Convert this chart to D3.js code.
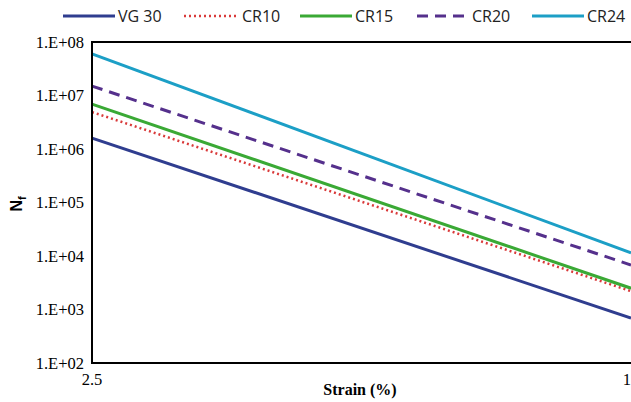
<!DOCTYPE html>
<html>
<head>
<meta charset="utf-8">
<script src="https://cdn.jsdelivr.net/npm/d3@7"></script>
<style>
  body { margin: 0; background: #fff; }
</style>
</head>
<body>
<div id="graph"></div>
<script>
// strain endpoints (%) and fatigue life Nf at each end
var strains = [2.5, 10];
var seriesNames = ["VG 30", "CR10", "CR15", "CR20", "CR24"];
var vg30 = [1.6e6, 690];
var cr10 = [4.9e6, 2.2e3];
var cr15 = [6.9e6, 2.5e3];
var cr20 = [1.5e7, 6.8e3];
var cr24 = [6.0e7, 1.14e4];
var yTicks = [1e2, 1e3, 1e4, 1e5, 1e6, 1e7, 1e8];
var xTicks = [2.5, 10];

var w = 631, h = 402;
var plotL = 92, plotR = 631, plotT = 42, plotB = 363;

var series = [
  { name: seriesNames[0], vals: vg30, color: "#2f3d8f", dash: null },
  { name: seriesNames[1], vals: cr10, color: "#d93a3a", dash: "2,3" },
  { name: seriesNames[2], vals: cr15, color: "#3aa935", dash: null },
  { name: seriesNames[3], vals: cr20, color: "#55308c", dash: "11,7" },
  { name: seriesNames[4], vals: cr24, color: "#1c9fc6", dash: null }
];

var xScale = d3.scaleLog().domain([2.5, 10]).range([plotL, plotR]);
var yScale = d3.scaleLog().domain([1e2, 1e8]).range([plotB, plotT]);

var svg = d3.select("#graph").append("svg")
  .attr("width", w).attr("height", h);

var line = d3.line()
  .x(function (d) { return xScale(d[0]); })
  .y(function (d) { return yScale(d[1]); });

series.forEach(function (s) {
  svg.append("path")
    .datum(strains.map(function (x, i) { return [x, s.vals[i]]; }))
    .attr("d", line)
    .attr("fill", "none")
    .attr("stroke", s.color)
    .attr("stroke-width", s.dash == "2,3" ? 2.5 : 3)
    .attr("stroke-dasharray", s.dash);
});

// frame
svg.append("line").attr("x1", plotL).attr("x2", plotR).attr("y1", plotT).attr("y2", plotT)
  .attr("stroke", "#000").attr("stroke-width", 2);
svg.append("line").attr("x1", plotL).attr("x2", plotL).attr("y1", plotT - 1).attr("y2", plotB + 1)
  .attr("stroke", "#000").attr("stroke-width", 2);
svg.append("line").attr("x1", plotL).attr("x2", plotR).attr("y1", plotB).attr("y2", plotB)
  .attr("stroke", "#000").attr("stroke-width", 2);

// y tick labels
svg.selectAll(".ytick").data(yTicks).enter().append("text")
  .attr("x", plotL - 8)
  .attr("y", function (d) { return yScale(d) + 5.5; })
  .attr("text-anchor", "end")
  .attr("font-family", "Liberation Serif, Times New Roman, serif")
  .attr("font-size", 16.5)
  .text(function (d) { return "1.E+" + d3.format("02d")(Math.round(Math.log10(d))); });

// x tick labels
svg.selectAll(".xtick").data(xTicks).enter().append("text")
  .attr("x", function (d) { return xScale(d); })
  .attr("y", plotB + 22)
  .attr("text-anchor", "middle")
  .attr("font-family", "Liberation Serif, Times New Roman, serif")
  .attr("font-size", 16.5)
  .text(function (d) { return d; });

// axis titles
svg.append("text")
  .attr("x", 360).attr("y", 395)
  .attr("text-anchor", "middle")
  .attr("font-family", "Liberation Serif, Times New Roman, serif")
  .attr("font-size", 16)
  .attr("font-weight", "bold")
  .text("Strain (%)");

var yl = svg.append("text")
  .attr("transform", "translate(22,204) rotate(-90)")
  .attr("text-anchor", "middle")
  .attr("font-family", "Liberation Sans, Arial, sans-serif")
  .attr("font-size", 16)
  .attr("font-weight", "bold");
yl.append("tspan").text("N");
yl.append("tspan").attr("font-size", 11).attr("dy", 4).text("f");

// legend
var legX = [63, 184, 300, 417, 532];
series.forEach(function (s, i) {
  var g = svg.append("g").attr("transform", "translate(" + legX[i] + ",16)");
  g.append("line").attr("x1", 0).attr("x2", 52).attr("y1", 0).attr("y2", 0)
    .attr("stroke", s.color)
    .attr("stroke-width", s.dash == "2,3" ? 2.5 : 3)
    .attr("stroke-dasharray", s.dash);
  g.append("text").attr("x", i == 1 ? 58 : 55).attr("y", 6)
    .attr("font-family", "Open Sans, Liberation Sans, sans-serif")
    .attr("font-size", 16)
    .attr("fill", "#222")
    .text(s.name);
});
</script>
</body>
</html>
